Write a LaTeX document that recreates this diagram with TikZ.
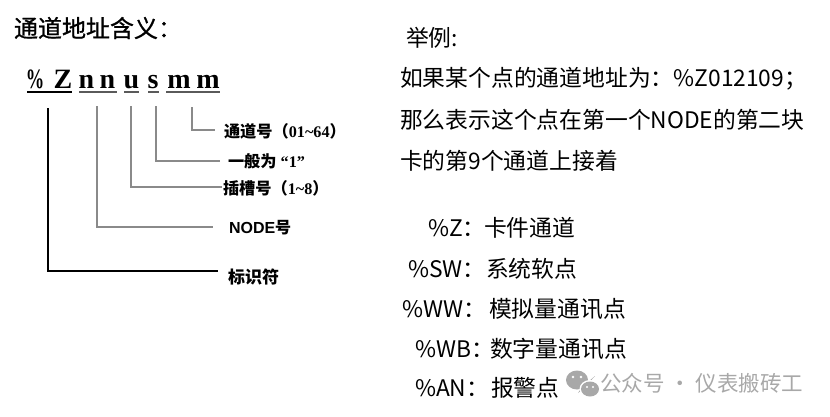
\documentclass[tikz,border=0pt]{standalone}
\usepackage{fontspec}
\setmainfont{Liberation Serif}
\newfontfamily\cjk{Noto Sans CJK SC}
\newfontfamily\cjkmed[FakeBold=0.9]{Noto Sans CJK SC}
\newfontfamily\arialsans{Liberation Sans}
\newcommand\myfs[1]{\fontsize{#1}{#1}\selectfont}
\definecolor{conngray}{HTML}{8A8A8A}
\definecolor{ulgray}{HTML}{5A5A5A}
\definecolor{wmgray}{HTML}{A8A8A8}
\begin{document}
\begin{tikzpicture}[x=1pt,y=-1pt,
  every node/.style={inner sep=0pt,outer sep=0pt},
  codech/.style={anchor=base,font=\bfseries\myfs{28}},
  ulblack/.style={line width=2pt,black},
  ulgrey/.style={line width=2pt,ulgray},
  connblack/.style={line width=1.8pt,black},
  conngrey/.style={line width=1.2pt,conngray},
  lbl/.style={anchor=west,font=\myfs{16.2}},
  rtxt/.style={anchor=west,font=\cjk\myfs{22.8}}]
\useasboundingbox (0,0) rectangle (830,416);
% title
\node[anchor=west,font=\cjkmed\myfs{24}] (title) at (14,28) {通道地址含义：};
% code letters
\node[codech] (cPct) at (35,88) {\scalebox{0.66}[1]{\%}};
\node[codech] (cZ) at (63,88) {Z};
\node[codech] (cN1) at (86.5,88) {n};
\node[codech] (cN2) at (107.5,88) {n};
\node[codech] (cU) at (131.5,88) {u};
\node[codech] (cS) at (153,88) {s};
\node[codech] (cM1) at (179,88) {m};
\node[codech] (cM2) at (208,88) {m};
% underlines
\draw[ulblack] (27,92) -- (72,92);
\draw[ulgrey] (79,92) -- (117,92);
\draw[ulgrey] (124,92) -- (139,92);
\draw[ulgrey] (148,92) -- (159,92);
\draw[ulgrey] (166,92) -- (220,92);
% connector start / end coordinates
\coordinate (uZ) at (48,108);
\coordinate (uN) at (97,106);
\coordinate (uU) at (131,106);
\coordinate (uS) at (156,106);
\coordinate (uM) at (192,107);
\coordinate (eID) at (218,271);
\coordinate (eNode) at (213,227);
\coordinate (eSlot) at (222,187);
\coordinate (eGen) at (220,161);
\coordinate (eCh) at (215,130);
\draw[connblack] (uZ) |- (eID);
\draw[conngrey] (uN) |- (eNode);
\draw[conngrey] (uU) |- (eSlot);
\draw[conngrey] (uS) |- (eGen);
\draw[conngrey] (uM) |- (eCh);
% labels
\node[lbl] (lCh) at (224,131) {{\cjk\bfseries 通道号（}{\bfseries 01\textasciitilde 64}{\cjk\bfseries ）}};
\node[lbl] (lGen) at (228,161) {{\cjk\bfseries 一般为}{\bfseries\ “1”}};
\node[lbl] (lSlot) at (223,188) {{\cjk\bfseries 插槽号（}{\bfseries 1\textasciitilde 8}{\cjk\bfseries ）}};
\node[lbl,font=\myfs{16}] (lNode) at (229,228) {{\arialsans\bfseries NODE}{\cjk\bfseries 号}};
\node[lbl,font=\myfs{17}] (lID) at (228,277) {{\cjk\bfseries 标识符}};
% right side example
\node[rtxt] (ex) at (406,38) {举例:};
\node[rtxt] (l1) at (400,79) {如果某个点的通道地址为：\%Z012109；};
\node[rtxt] (l2) at (400,120) {那么表示这个点在第一个NODE的第二块};
\node[rtxt] (l3) at (400,161) {卡的第9个通道上接着};
% list
\node[rtxt] (pZ) at (428,228) {\%Z：};
\node[rtxt] (tZ) at (484,228) {卡件通道};
\node[rtxt] (pSW) at (408,269) {\%SW：};
\node[rtxt] (tSW) at (486,269) {系统软点};
\node[rtxt] (pWW) at (402,309) {\%WW：};
\node[rtxt] (tWW) at (489,309) {模拟量通讯点};
\node[rtxt] (pWB) at (415,349) {\%WB：};
\node[rtxt] (tWB) at (490,349) {数字量通讯点};
\node[rtxt] (pAN) at (415,388) {\%AN：};
\node[rtxt] (tAN) at (491,388) {报警点};
% watermark
\fill[wmgray] (577,380) ellipse [x radius=11,y radius=9.5];
\fill[wmgray] (595,376) -- (583,389) -- (578,393) -- (582,387) -- cycle;
\fill[white] (590,389) ellipse [x radius=10.5,y radius=9];
\fill[wmgray] (590,389) ellipse [x radius=9,y radius=7.5];
\fill[white] (573,377) circle (1.4) (581,377) circle (1.4) (587,387) circle (1.1) (593,387) circle (1.1);
\node[anchor=west,font=\cjk\myfs{21.5},text=wmgray] (wm) at (600,383) {公众号 · 仪表搬砖工};
\end{tikzpicture}
\end{document}
